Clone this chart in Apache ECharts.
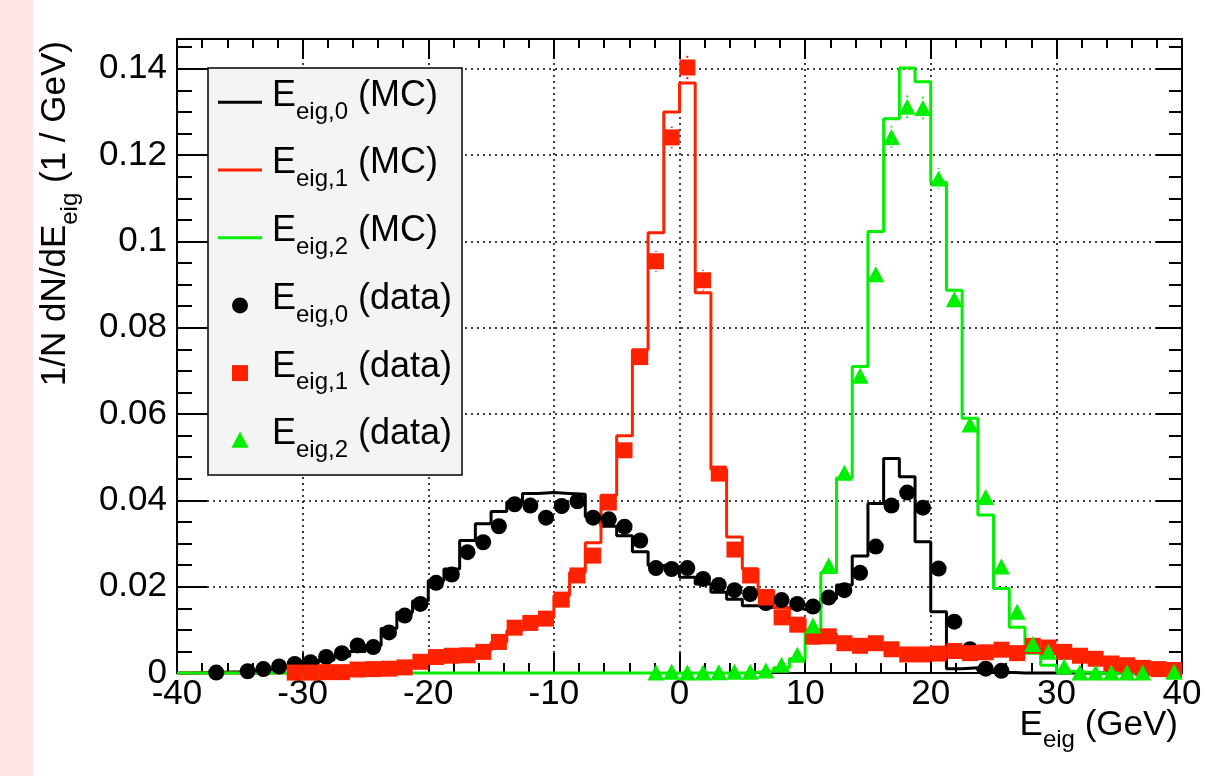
<!DOCTYPE html>
<html>
<head>
<meta charset="utf-8">
<script src="https://cdn.jsdelivr.net/npm/echarts@6/dist/echarts.min.js"></script>
<style>
html,body{margin:0;padding:0;background:#fff;}
#chart{position:absolute;left:0;top:0;width:1215px;height:776px;}
</style>
</head>
<body>
<div id="chart"></div>
<script>
// ---------------- data ----------------
const X_MIN = -40, X_MAX = 40, N_BINS = 64;
const Y_MIN = 0, Y_MAX = 0.1469;
const xTicks = [-40, -30, -20, -10, 0, 10, 20, 30, 40];
const xTickLabels = ['-40', '-30', '-20', '-10', '0', '10', '20', '30', '40'];
const yTicks = [0, 0.02, 0.04, 0.06, 0.08, 0.10, 0.12, 0.14];
const yTickLabels = ['0', '0.02', '0.04', '0.06', '0.08', '0.1', '0.12', '0.14'];

// MC histograms (64 bins, -40..40 GeV)
const mcE0 = [
  0, 0.0001, 0.0002, 0.0003, 0.0005, 0.0008, 0.0012, 0.0017, 0.0022, 0.0030,
  0.0039, 0.0050, 0.0064, 0.0103, 0.0140, 0.0167, 0.0214, 0.0241, 0.0307, 0.0346,
  0.0374, 0.0396, 0.0416, 0.0418, 0.0416, 0.0414, 0.0362, 0.0340, 0.0318, 0.0281,
  0.0249, 0.0247, 0.0222, 0.0206, 0.0187, 0.0171, 0.0156, 0.0152, 0.0151, 0.0148,
  0.0152, 0.0172, 0.0204, 0.0271, 0.0393, 0.0497, 0.0455, 0.0304, 0.0142, 0.0010,
  0.0012, 0.0005, 0.0002, 0, 0, 0, 0, 0, 0, 0,
  0, 0, 0, 0
];
const mcE1 = [
  0, 0, 0, 0, 0, 0, 0, 0.0003, 0.0004, 0.0005,
  0.0007, 0.0008, 0.0010, 0.0012, 0.0017, 0.0025, 0.0035, 0.0040, 0.0044, 0.0052,
  0.0071, 0.0098, 0.0112, 0.0128, 0.0179, 0.0233, 0.0302, 0.0412, 0.0550, 0.0749,
  0.1020, 0.1300, 0.1367, 0.0881, 0.0472, 0.0315, 0.0241, 0.0191, 0.0152, 0.0125,
  0.0094, 0.0090, 0.0076, 0.0068, 0.0063, 0.0058, 0.0052, 0.0048, 0.0047, 0.0048,
  0.0050, 0.0052, 0.0054, 0.0055, 0.0057, 0.0056, 0.0051, 0.0044, 0.0036, 0.0028,
  0.0020, 0.0014, 0.0010, 0.0007
];
const mcE2 = [
  0, 0, 0, 0, 0, 0, 0, 0, 0, 0,
  0, 0, 0, 0, 0, 0, 0, 0, 0, 0,
  0, 0, 0, 0, 0, 0, 0, 0, 0, 0,
  0, 0, 0, 0, 0, 0, 0.0002, 0.0004, 0.0012, 0.0033,
  0.0095, 0.0233, 0.0452, 0.0710, 0.1023, 0.1284, 0.1402, 0.1370, 0.1137, 0.0887,
  0.0590, 0.0366, 0.0196, 0.0106, 0.0046, 0.0018, 0.0004, 0.0002, 0, 0,
  0, 0, 0, 0
];

// data points (null = empty bin)
const dataE0 = [
  null, null, 0.0001, null, 0.0004, 0.0009, 0.0015, 0.0021, 0.0025, 0.0037,
  0.0046, 0.0064, 0.0060, 0.0094, 0.0133, 0.0160, 0.0209, 0.0228, 0.0280, 0.0303,
  0.0340, 0.0391, 0.0388, 0.0360, 0.0387, 0.0398, 0.0360, 0.0356, 0.0339, 0.0307,
  0.0243, 0.0241, 0.0243, 0.0218, 0.0204, 0.0192, 0.0183, 0.0162, 0.0169, 0.0160,
  0.0154, 0.0175, 0.0192, 0.0232, 0.0293, 0.0388, 0.0418, 0.0383, 0.0242, 0.0119,
  0.0055, 0.0010, 0.0005, null, null, null, null, null, null, null,
  null, null, null, null
];
const dataE1 = [
  null, null, null, null, null, null, null, 0.0001, 0.0001, 0.0002,
  0.0002, 0.0008, 0.0009, 0.0010, 0.0013, 0.0026, 0.0037, 0.0040, 0.0041, 0.0049,
  0.0072, 0.0105, 0.0116, 0.0126, 0.0170, 0.0226, 0.0272, 0.0395, 0.0516, 0.0732,
  0.0954, 0.1241, 0.1403, 0.0910, 0.0462, 0.0286, 0.0226, 0.0175, 0.0129, 0.0112,
  0.0084, 0.0085, 0.0069, 0.0063, 0.0069, 0.0055, 0.0043, 0.0043, 0.0045, 0.0051,
  0.0046, 0.0048, 0.0054, 0.0046, 0.0063, 0.0059, 0.0049, 0.0040, 0.0033, 0.0022,
  0.0018, 0.0012, 0.0009, 0.0007
];
const dataE2 = [
  null, null, null, null, null, null, null, null, null, null,
  null, null, null, null, null, null, null, null, null, null,
  null, null, null, null, null, null, null, null, null, null,
  0.0001, 0.0003, 0.0001, 0.0001, 0.0002, 0.0003, 0.0003, 0.0006, 0.0019, 0.0042,
  0.0110, 0.0249, 0.0464, 0.0689, 0.0924, 0.1242, 0.1312, 0.1309, 0.1146, 0.0866,
  0.0576, 0.0408, 0.0247, 0.0142, 0.0067, 0.0049, 0.0015, 0.0001, 0.0001, 0.0001,
  0.0001, 0.0001, null, 0.0003
];
// visible error bars: [bin index, error]
const errE1 = [[29, 0.0022], [30, 0.0024], [31, 0.0025], [32, 0.0027], [33, 0.0024]];
const errE2 = [[44, 0.0023], [45, 0.0025], [46, 0.0026], [47, 0.0026], [48, 0.0024], [49, 0.0022]];

// ---------------- helpers ----------------
const binWidth = (X_MAX - X_MIN) / N_BINS;
const lowEdges = mcE0.map((_, i) => X_MIN + i * binWidth);
const centers = mcE0.map((_, i) => X_MIN + (i + 0.5) * binWidth);
function histLine(vals) {
  const d = vals.map((v, i) => [lowEdges[i], v]);
  d.push([X_MAX, vals[vals.length - 1]]);
  return d;
}
function points(vals) {
  const out = [];
  vals.forEach((v, i) => { if (v !== null) out.push([centers[i], v]); });
  return out;
}
const BLACK = '#000000', RED = '#ff2200', GREEN = '#00f000';
const FONT = '"Liberation Sans", Arial, Helvetica, sans-serif';

function errSeries(vals, errs, color) {
  const data = errs.map(([i, e]) => [centers[i], vals[i], e]);
  return {
    type: 'custom', xAxisIndex: 0, yAxisIndex: 0, data, z: 5, silent: true, clip: false,
    encode: { x: 0, y: 1 },
    renderItem(params, api) {
      const x = api.value(0), y = api.value(1), e = api.value(2);
      const p = api.coord([x, y]);
      const t = api.coord([x, y + e]);
      const b = api.coord([x, y - e]);
      const gap = 9.5;
      const ch = [];
      if (p[1] - t[1] > gap) ch.push({ type: 'line', shape: { x1: p[0], y1: t[1], x2: p[0], y2: p[1] - gap }, style: { stroke: color, lineWidth: 2 } });
      if (b[1] - p[1] > gap) ch.push({ type: 'line', shape: { x1: p[0], y1: p[1] + gap, x2: p[0], y2: b[1] }, style: { stroke: color, lineWidth: 2 } });
      return { type: 'group', children: ch };
    }
  };
}

// text measuring for sub-scripted labels
const mctx = document.createElement('canvas').getContext('2d');
function tw(t, fs) { mctx.font = fs + 'px ' + FONT; return mctx.measureText(t).width; }
function txt(x, baseline, t, fs, extra) {
  return Object.assign({
    type: 'text', x: x, y: baseline - 0.3465 * fs,
    style: { text: t, font: fs + 'px ' + FONT, fill: '#000', align: 'left', verticalAlign: 'middle' }
  }, extra || {});
}
function subText(x, baseline, main, sub, rest, fsM, fsS, drop, z) {
  const els = [];
  let cx = x;
  els.push(txt(cx, baseline, main, fsM, { z })); cx += tw(main, fsM);
  els.push(txt(cx, baseline + drop, sub, fsS, { z })); cx += tw(sub, fsS);
  if (rest) { els.push(txt(cx, baseline, rest, fsM, { z })); cx += tw(rest, fsM); }
  return { els, width: cx - x };
}

// ---------------- graphics (titles, legend, page strip) ----------------
const graphics = [];
graphics.push({ type: 'rect', shape: { x: 0, y: 0, width: 33, height: 776 }, style: { fill: '#fde6e3' }, z: -10 });

// x-axis title, right aligned at the frame end
(function () {
  const fsM = 35, fsS = 24, drop = 12;
  const w = tw('E', fsM) + tw('eig', fsS) + tw(' (GeV)', fsM);
  const r = subText(1178 - w, 737, 'E', 'eig', ' (GeV)', fsM, fsS, drop, 10);
  r.els.forEach(e => graphics.push(e));
})();

// y-axis title, rotated, right aligned to top of frame
(function () {
  const fsM = 35, fsS = 24, drop = 12;
  const w = tw('1/N dN/dE', fsM) + tw('eig', fsS) + tw(' (1 / GeV)', fsM);
  const r = subText(0, 0, '1/N dN/dE', 'eig', ' (1 / GeV)', fsM, fsS, drop, 10);
  graphics.push({ type: 'group', x: 67, y: 41 + w, rotation: Math.PI / 2, children: r.els });
})();

// legend
const legendRows = [
  { kind: 'line', color: BLACK, sub: 'eig,0', rest: ' (MC)' },
  { kind: 'line', color: RED, sub: 'eig,1', rest: ' (MC)' },
  { kind: 'line', color: GREEN, sub: 'eig,2', rest: ' (MC)' },
  { kind: 'circle', color: BLACK, sub: 'eig,0', rest: ' (data)' },
  { kind: 'square', color: RED, sub: 'eig,1', rest: ' (data)' },
  { kind: 'triangle', color: GREEN, sub: 'eig,2', rest: ' (data)' }
];
graphics.push({ type: 'rect', shape: { x: 208, y: 68, width: 254, height: 407 }, style: { fill: '#f4f4f4', stroke: '#000', lineWidth: 1.5 }, z: 20 });
legendRows.forEach((row, i) => {
  const base = 108.3 + 67.7 * i;
  const cy = base - 6;
  const cx = 240;
  let icon;
  if (row.kind === 'line') icon = { type: 'line', shape: { x1: 218, y1: cy, x2: 262, y2: cy }, style: { stroke: row.color, lineWidth: 3 } };
  else if (row.kind === 'circle') icon = { type: 'circle', shape: { cx, cy, r: 8 }, style: { fill: row.color } };
  else if (row.kind === 'square') icon = { type: 'rect', shape: { x: cx - 8, y: cy - 8, width: 16, height: 16 }, style: { fill: row.color } };
  else icon = { type: 'polygon', shape: { points: [[cx, cy - 9], [cx + 8.5, cy + 7], [cx - 8.5, cy + 7]] }, style: { fill: row.color } };
  icon.z = 21;
  graphics.push(icon);
  subText(272, base, 'E', row.sub, row.rest, 36, 24, 12, 21).els.forEach(e => graphics.push(e));
});

// ---------------- axes ----------------
const lineBlack = { color: '#000', width: 2 };
const dotted = { color: '#000', width: 1.5, type: [2, 4] };
function xLabel(v) {
  const i = xTicks.findIndex(t => Math.abs(t - v) < 1e-9);
  return i >= 0 ? xTickLabels[i] : '';
}
function yLabel(v) {
  const i = yTicks.findIndex(t => Math.abs(t - v) < 1e-9);
  return i >= 0 ? yTickLabels[i] : '';
}
const GRID = { left: 177, right: 33, top: 39, bottom: 103, outerBoundsMode: 'none', containLabel: false };

const option = {
  animation: false,
  backgroundColor: 'transparent',
  grid: [Object.assign({}, GRID), Object.assign({}, GRID)],
  xAxis: [
    {
      gridIndex: 0, type: 'value', position: 'bottom', min: X_MIN, max: X_MAX, interval: 10,
      axisLine: { show: true, onZero: false, lineStyle: lineBlack },
      axisTick: { show: true, inside: true, length: 20, lineStyle: lineBlack },
      minorTick: { show: true, splitNumber: 5, length: 10, lineStyle: lineBlack },
      axisLabel: { show: true, margin: 4, color: '#000', fontSize: 35, fontFamily: FONT, showMinLabel: true, showMaxLabel: true, formatter: xLabel },
      splitLine: { show: true, lineStyle: dotted },
      minorSplitLine: { show: false }
    },
    {
      gridIndex: 0, type: 'value', position: 'top', min: X_MIN, max: X_MAX, interval: 10,
      axisLine: { show: true, onZero: false, lineStyle: lineBlack },
      axisTick: { show: true, inside: true, length: 20, lineStyle: lineBlack },
      minorTick: { show: true, splitNumber: 5, length: 9, lineStyle: lineBlack },
      axisLabel: { show: false }, splitLine: { show: false }
    },
    {
      gridIndex: 1, type: 'value', position: 'bottom', min: X_MIN, max: X_MAX, interval: 10,
      axisLine: { show: false, onZero: false }, axisTick: { show: false }, axisLabel: { show: false },
      splitLine: { show: false }, minorTick: { show: false }
    }
  ],
  yAxis: [
    {
      gridIndex: 0, type: 'value', position: 'left', min: Y_MIN, max: Y_MAX, interval: 0.02,
      axisLine: { show: true, onZero: false, lineStyle: lineBlack },
      axisTick: { show: true, inside: true, length: 30, lineStyle: lineBlack },
      axisLabel: { show: true, margin: 10, color: '#000', fontSize: 35, fontFamily: FONT, showMaxLabel: false, formatter: yLabel },
      splitLine: { show: true, lineStyle: dotted }
    },
    {
      gridIndex: 0, type: 'value', position: 'right', min: Y_MIN, max: Y_MAX, interval: 0.02,
      axisLine: { show: true, onZero: false, lineStyle: lineBlack },
      axisTick: { show: true, inside: true, length: 26, lineStyle: lineBlack },
      axisLabel: { show: false }, splitLine: { show: false }
    },
    {
      gridIndex: 1, type: 'value', position: 'left', min: Y_MIN, max: Y_MAX, interval: 0.005,
      axisLine: { show: false, onZero: false }, axisTick: { show: true, inside: true, length: 15, lineStyle: lineBlack },
      axisLabel: { show: false }, splitLine: { show: false }
    },
    {
      gridIndex: 1, type: 'value', position: 'right', min: Y_MIN, max: Y_MAX, interval: 0.005,
      axisLine: { show: false, onZero: false }, axisTick: { show: true, inside: true, length: 13, lineStyle: lineBlack },
      axisLabel: { show: false }, splitLine: { show: false }
    }
  ],
  series: [
    { name: 'E_eig,0 (MC)', type: 'line', xAxisIndex: 0, yAxisIndex: 0, step: 'end', data: histLine(mcE0), symbol: 'none', clip: false, lineStyle: { color: BLACK, width: 3 }, z: 2 },
    { name: 'E_eig,1 (MC)', type: 'line', xAxisIndex: 0, yAxisIndex: 0, step: 'end', data: histLine(mcE1), symbol: 'none', clip: false, lineStyle: { color: RED, width: 3 }, z: 2 },
    { name: 'E_eig,2 (MC)', type: 'line', xAxisIndex: 0, yAxisIndex: 0, step: 'end', data: histLine(mcE2), symbol: 'none', clip: false, lineStyle: { color: GREEN, width: 3 }, z: 2 },
    { name: 'E_eig,0 (data)', type: 'scatter', xAxisIndex: 0, yAxisIndex: 0, data: points(dataE0), symbol: 'circle', symbolSize: 16, clip: false, itemStyle: { color: BLACK, opacity: 1 }, z: 3 },
    { name: 'E_eig,1 (data)', type: 'scatter', xAxisIndex: 0, yAxisIndex: 0, data: points(dataE1), symbol: 'rect', symbolSize: 16, clip: false, itemStyle: { color: RED, opacity: 1 }, z: 3 },
    { name: 'E_eig,2 (data)', type: 'scatter', xAxisIndex: 0, yAxisIndex: 0, data: points(dataE2), symbol: 'triangle', symbolSize: [17, 16], clip: false, itemStyle: { color: GREEN, opacity: 1 }, z: 3 },
    errSeries(dataE1, errE1, RED),
    errSeries(dataE2, errE2, GREEN)
  ],
  graphic: { elements: graphics }
};

const chart = echarts.init(document.getElementById('chart'), null, { renderer: 'canvas', width: 1215, height: 776 });
chart.setOption(option);
</script>
</body>
</html>
